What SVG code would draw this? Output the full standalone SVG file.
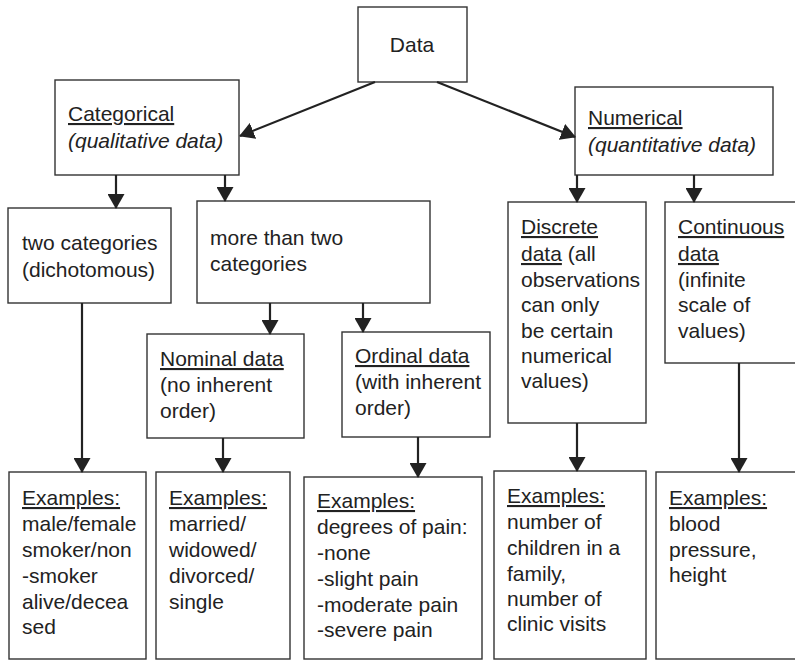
<svg xmlns="http://www.w3.org/2000/svg" width="795" height="660" viewBox="0 0 795 660">
<style>
  .box { fill: #fff; stroke: #333; stroke-width: 1.4; }
  text { font-family: "Liberation Sans", Arial, sans-serif; font-size: 21px; fill: #222; }
  .u { text-decoration: underline; }
  .i { font-style: italic; }
  .conn line { stroke: #222; stroke-width: 2.2; marker-end: url(#arr); }
</style>
<defs>
  <marker id="arr" markerUnits="userSpaceOnUse" markerWidth="17" markerHeight="17" refX="14" refY="8.5" orient="auto">
    <path d="M0,0 L15,8.5 L0,17 z" fill="#222"/>
  </marker>
</defs>
<rect width="795" height="660" fill="#fff"/>

<g id="data"><rect class="box" x="358" y="7" width="109" height="75"/><text x="412" y="52" text-anchor="middle">Data</text></g>

<g id="categorical"><rect class="box" x="55" y="80" width="184" height="95"/>
<text x="68" y="121" class="u">Categorical</text>
<text x="68" y="148" class="i">(qualitative data)</text></g>

<g id="numerical"><rect class="box" x="575" y="87" width="198" height="88"/>
<text x="588" y="125" class="u">Numerical</text>
<text x="588" y="152" class="i">(quantitative data)</text></g>

<g id="two-categories"><rect class="box" x="8" y="208" width="163" height="95"/>
<text x="22" y="250">two categories</text>
<text x="22" y="277">(dichotomous)</text></g>

<g id="more-than-two"><rect class="box" x="197" y="201" width="233" height="102"/>
<text x="210" y="245">more than two</text>
<text x="210" y="271">categories</text></g>

<g id="nominal"><rect class="box" x="147" y="334" width="157" height="104"/>
<text x="160" y="366" class="u">Nominal data</text>
<text x="160" y="392">(no inherent</text>
<text x="160" y="418">order)</text></g>

<g id="ordinal"><rect class="box" x="342" y="332" width="148" height="105"/>
<text x="355" y="363" class="u">Ordinal data</text>
<text x="355" y="389">(with inherent</text>
<text x="355" y="415">order)</text></g>

<g id="discrete"><rect class="box" x="508" y="202" width="138" height="221"/>
<text x="521" y="234" class="u">Discrete</text>
<text x="521" y="261"><tspan class="u">data</tspan> (all</text>
<text x="521" y="287">observations</text>
<text x="521" y="312">can only</text>
<text x="521" y="338">be certain</text>
<text x="521" y="363">numerical</text>
<text x="521" y="388">values)</text></g>

<g id="continuous"><rect class="box" x="665" y="202" width="140" height="161"/>
<text x="678" y="234" class="u">Continuous</text>
<text x="678" y="261" class="u">data</text>
<text x="678" y="287">(infinite</text>
<text x="678" y="312">scale of</text>
<text x="678" y="338">values)</text></g>

<g id="ex1"><rect class="box" x="9" y="472" width="137" height="187"/>
<text x="22" y="505" class="u">Examples:</text>
<text x="22" y="531">male/female</text>
<text x="22" y="557">smoker/non</text>
<text x="22" y="583">-smoker</text>
<text x="22" y="609">alive/decea</text>
<text x="22" y="634">sed</text></g>

<g id="ex2"><rect class="box" x="156" y="472" width="134" height="187"/>
<text x="169" y="505" class="u">Examples:</text>
<text x="169" y="531">married/</text>
<text x="169" y="557">widowed/</text>
<text x="169" y="583">divorced/</text>
<text x="169" y="609">single</text></g>

<g id="ex3"><rect class="box" x="304" y="477" width="178" height="182"/>
<text x="317" y="508" class="u">Examples:</text>
<text x="317" y="534">degrees of pain:</text>
<text x="317" y="560">-none</text>
<text x="317" y="586">-slight pain</text>
<text x="317" y="612">-moderate pain</text>
<text x="317" y="637">-severe pain</text></g>

<g id="ex4"><rect class="box" x="494" y="471" width="152" height="188"/>
<text x="507" y="503" class="u">Examples:</text>
<text x="507" y="529">number of</text>
<text x="507" y="555">children in a</text>
<text x="507" y="581">family,</text>
<text x="507" y="606">number of</text>
<text x="507" y="631">clinic visits</text></g>

<g id="ex5"><rect class="box" x="656" y="472" width="150" height="187"/>
<text x="669" y="505" class="u">Examples:</text>
<text x="669" y="531">blood</text>
<text x="669" y="557">pressure,</text>
<text x="669" y="582">height</text></g>

<g id="connectors" class="conn">
  <line x1="375" y1="82" x2="240" y2="136"/>
  <line x1="437" y1="82" x2="575" y2="137"/>
  <line x1="116" y1="175" x2="116" y2="208"/>
  <line x1="225" y1="175" x2="225" y2="201"/>
  <line x1="577" y1="175" x2="577" y2="202"/>
  <line x1="694" y1="175" x2="694" y2="202"/>
  <line x1="82" y1="303" x2="82" y2="472"/>
  <line x1="270" y1="303" x2="270" y2="334"/>
  <line x1="363" y1="303" x2="363" y2="332"/>
  <line x1="223" y1="438" x2="223" y2="472"/>
  <line x1="418" y1="437" x2="418" y2="477"/>
  <line x1="577" y1="423" x2="577" y2="471"/>
  <line x1="739" y1="363" x2="739" y2="472"/>
</g>
</svg>
